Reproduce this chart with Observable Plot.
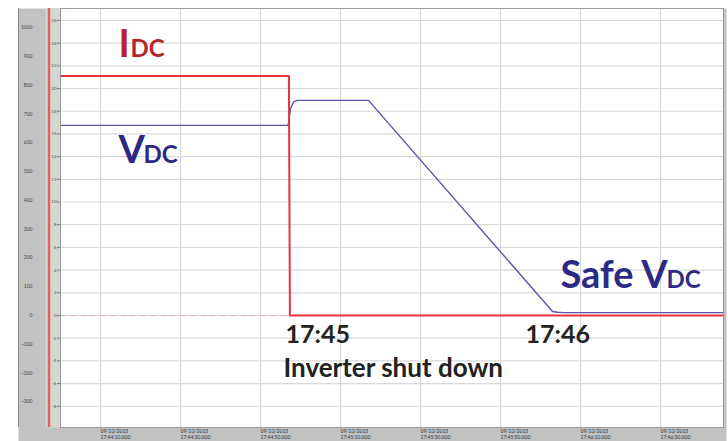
<!DOCTYPE html>
<html><head><meta charset="utf-8">
<script src="https://cdn.jsdelivr.net/npm/d3@7"></script>
<script src="https://cdn.jsdelivr.net/npm/@observablehq/plot@0.6"></script>
<style>body{margin:0;background:#fff;}</style>
</head><body><div id="chart"></div>
<script>
// Time in seconds after 17:44:00
const idcTime  = [0, 57.1, 57.35, 165.75];
const idcAmps  = [21.1, 21.1, 0, 0];
const vdcTime  = [0, 56.9, 57.5, 58.3, 59.2, 77.0, 123.0, 124.2, 126.0, 165.75];
const vdcVolts = [660, 660, 718, 742, 747, 747, 14, 11, 10, 10];

const voltTicks = d3.range(-300, 1001, 100);
const ampTicks  = d3.range(-8, 27, 2);
const timeTicks = [10, 30, 50, 70, 90, 110, 130, 150];
const dateLabel = "09/10/2015";

// annotations
const annText = ["I", "DC", "V", "DC", "Safe V", "DC", "17:45", "17:46", "Inverter shut down"];
const annT    = [14.5, 14.5, 14.5, 14.5, 125, 125, 56.25, 116.25, 55.75];
const annV    = [899, 899, 528, 528, 94, 94, -97, -97, -212];

const K = 39.4; // plot units (V) per ampere of the current axis

const idc = idcTime.map((t, i) => ({t, a: idcAmps[i]}));
const vdc = vdcTime.map((t, i) => ({t, v: vdcVolts[i]}));
const ann = annText.map((text, i) => ({text, t: annT[i], v: annV[i]}));

const fmtTime = t => {
  const s = 17 * 3600 + 44 * 60 + t;
  const p = n => String(Math.floor(n)).padStart(2, "0");
  return `${dateLabel}\n${p(s / 3600)}:${p((s % 3600) / 60)}:${p(s % 60)}.000`;
};

const red = "#b8232f", blue = "#2d2a86";
const big = 38, small = 24;
const txt = (i, opts) => Plot.text([ann[i]], {x: "t", y: "v", text: "text", textAnchor: "start", lineAnchor: "bottom", fontWeight: 700, ...opts});

const chart = Plot.plot({
  width: 728, height: 441,
  marginTop: 8, marginLeft: 60, marginRight: 5, marginBottom: 14,
  x: {domain: [0, 165.75]},
  y: {domain: [-389, 1066]},
  style: {fontFamily: "Lato, 'Open Sans', sans-serif", background: "transparent", overflow: "visible"},
  marks: [
    Plot.frame({fill: "#c2c2c2", insetLeft: -42, insetBottom: -14, insetRight: -3}),
    Plot.frame({fill: "#d5d8d1", insetLeft: -15}),
    Plot.frame({fill: "white"}),
    Plot.gridX(timeTicks, {stroke: "#d9d9d9", strokeOpacity: 1, strokeWidth: 1.2}),
    Plot.gridY(ampTicks.map(a => a * K), {stroke: "#d9d9d9", strokeOpacity: 1, strokeWidth: 1.2}),
    Plot.ruleY([0], {stroke: "#e9a6ac", strokeDasharray: "6,4"}),
    Plot.line(vdc, {x: "t", y: "v", stroke: "#5856a6", strokeWidth: 1.4}),
    Plot.line(idc, {x: "t", y: d => d.a * K, stroke: "#e5343e", strokeWidth: 2}),
    Plot.ruleX([0], {dx: -11.5, stroke: "#e0606e", strokeWidth: 2.5}),
    Plot.ruleX([0], {dx: -42, stroke: "#8a8a8a"}),
    Plot.frame({stroke: "#9a9a9a"}),
    Plot.axisY(voltTicks, {tickSize: 0, tickPadding: 28, fontSize: 5, fill: "#444", tickFormat: d3.format("d"), label: null}),
    Plot.axisY(ampTicks.map(a => a * K), {tickSize: 3, tickPadding: 1, fontSize: 4.5, fill: "#555", stroke: "#777", tickFormat: v => Math.round(v / K), label: null}),
    Plot.axisX(timeTicks, {tickSize: 0, tickPadding: 2, fontSize: 5, textAnchor: "start", lineHeight: 1.1, fill: "#333", tickFormat: fmtTime, label: null}),
    txt(0, {fill: red, fontSize: big}),
    txt(1, {fill: red, fontSize: small, dx: 12}),
    txt(2, {fill: blue, fontSize: big}),
    txt(3, {fill: blue, fontSize: small, dx: 25}),
    txt(4, {fill: blue, fontSize: big}),
    txt(5, {fill: blue, fontSize: small, dx: 106}),
    txt(6, {fill: "#222", fontSize: 25}),
    txt(7, {fill: "#222", fontSize: 25}),
    txt(8, {fill: "#222", fontSize: 26})
  ]
});
document.getElementById("chart").append(chart);
</script>
</body></html>
